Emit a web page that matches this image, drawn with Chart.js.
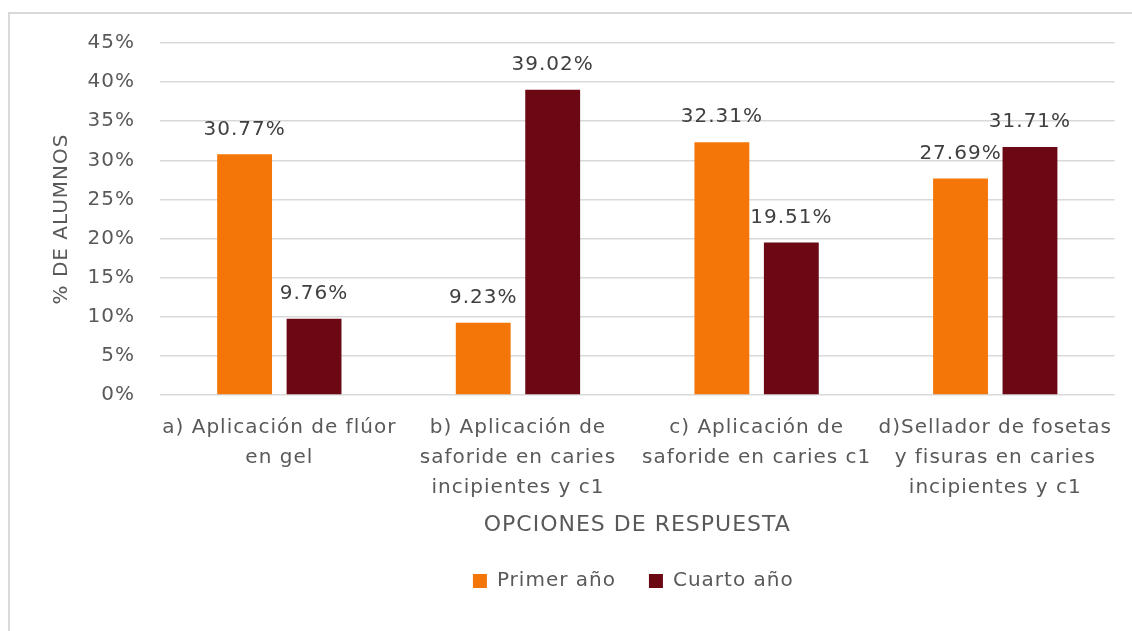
<!DOCTYPE html>
<html><head><meta charset="utf-8">
<script src="https://cdn.jsdelivr.net/npm/chart.js@4.4.1/dist/chart.umd.min.js"></script>
<style>
html,body{margin:0;padding:0;background:#fff;}
#wrap{position:relative;width:1132px;height:631px;overflow:hidden;}
#frame{position:absolute;left:8px;top:12px;width:1200px;height:700px;border-left:2px solid #d9d9d9;border-top:2px solid #d9d9d9;pointer-events:none;}
canvas{position:absolute;left:0;top:0;}
</style></head><body>
<div id="wrap"><canvas id="c" width="1132" height="631"></canvas><div id="frame"></div></div>
<script>
const categories = [
  ["a) Aplicación de flúor", "en gel"],
  ["b) Aplicación de", "saforide en caries", "incipientes y c1"],
  ["c) Aplicación de", "saforide en caries c1"],
  ["d)Sellador de fosetas", "y fisuras en caries", "incipientes y c1"]
];
const seriesNames = ["Primer año", "Cuarto año"];
const primerAno = [30.77, 9.23, 32.31, 27.69];
const cuartoAno = [9.76, 39.02, 19.51, 31.71];
const yMin = 0, yMax = 45, yStep = 5;
const xTitle = "OPCIONES DE RESPUESTA";
const yTitle = "% DE ALUMNOS";

const FONT = '"DejaVu Sans", sans-serif';
Chart.defaults.font.family = FONT;
Chart.defaults.font.size = 20;
Chart.defaults.color = '#595959';

const spacing = {
  id: 'spacing',
  beforeUpdate(c) { c.ctx.letterSpacing = '1px'; },
  beforeLayout(c) { c.ctx.letterSpacing = '1px'; },
  beforeDraw(c) { c.ctx.letterSpacing = '1px'; }
};

// centre the legend under the plot area, as the original does
const legendShift = {
  id: 'legendShift',
  afterLayout(c) {
    const lg = c.legend;
    if (!lg) return;
    const target = (c.chartArea.left + c.chartArea.right) / 2 - 4;
    const cur = (lg.left + lg.right) / 2;
    const d = target - cur;
    lg.left += d; lg.right += d;
  }
};

const valueLabels = {
  id: 'valueLabels',
  afterDatasetsDraw(chart) {
    const ctx = chart.ctx;
    ctx.save();
    ctx.font = '20px ' + FONT;
    ctx.fillStyle = '#404040';
    ctx.textAlign = 'center';
    ctx.textBaseline = 'middle';
    chart.data.datasets.forEach((ds, i) => {
      chart.getDatasetMeta(i).data.forEach((bar, j) => {
        ctx.fillText(ds.data[j].toFixed(2) + '%', bar.x, bar.y - 25);
      });
    });
    ctx.restore();
  }
};

new Chart(document.getElementById('c'), {
  type: 'bar',
  data: {
    labels: categories,
    datasets: [
      { label: seriesNames[0], data: primerAno, backgroundColor: '#F47608', borderWidth: 0 },
      { label: seriesNames[1], data: cuartoAno, backgroundColor: '#6B0814', borderWidth: 0 }
    ]
  },
  options: {
    responsive: false,
    animation: false,
    devicePixelRatio: 1,
    categoryPercentage: 0.582,
    barPercentage: 0.79,
    layout: { padding: { left: 0, right: 17, top: 43, bottom: 30 } },
    plugins: {
      legend: {
        position: 'bottom',
        labels: { boxWidth: 14, boxHeight: 14, padding: 33, font: { size: 20 }, color: '#595959' }
      },
      tooltip: { enabled: false }
    },
    scales: {
      x: {
        grid: { display: false, drawTicks: false },
        border: { display: false },
        ticks: { padding: 18, autoSkip: false, maxRotation: 0, minRotation: 0, font: { size: 20, lineHeight: 1.5 }, color: '#595959' },
        title: { display: true, text: xTitle, font: { size: 22, lineHeight: 1.2 }, color: '#595959', padding: { top: 0, bottom: 0 } },
        afterFit(s) { s.height = 143; }
      },
      y: {
        min: yMin, max: yMax,
        grid: { color: '#d9d9d9', lineWidth: 1.5, drawTicks: false },
        border: { display: false },
        ticks: { stepSize: yStep, padding: 25, callback: v => v + '%', font: { size: 20 }, color: '#595959' },
        title: { display: true, text: yTitle, font: { size: 20, lineHeight: 1.2 }, color: '#595959', padding: { top: 50, bottom: 0 } },
        afterFit(s) { s.width = 160; }
      }
    }
  },
  plugins: [spacing, legendShift, valueLabels]
});
</script>
</body></html>
